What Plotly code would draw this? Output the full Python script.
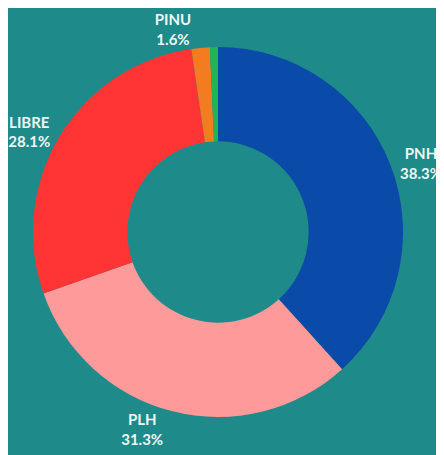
import plotly.graph_objects as go

parties = ["PNH", "PLH", "LIBRE", "PINU", "Otros"]
shares = [38.3, 31.3, 28.1, 1.6, 0.7]
colors = ["#0a4aa8", "#ff9a9a", "#ff3535", "#f47c20", "#1fb552"]
labels_shown = [True, True, True, True, False]

templates = ["<b>%{label}</b><br><b>%{value}%</b>" if s else "" for s in labels_shown]

fig = go.Figure(go.Pie(
    labels=parties,
    values=shares,
    marker=dict(colors=colors, line=dict(width=0)),
    hole=0.49,
    sort=False,
    direction="clockwise",
    rotation=0,
    textposition="outside",
    texttemplate=templates,
    textfont=dict(family="Lato, sans-serif", size=15, color="#eef6f4"),
    showlegend=False,
    automargin=False,
))
fig.update_layout(
    width=444, height=455,
    paper_bgcolor="#1f8a8a",
    plot_bgcolor="#1f8a8a",
    margin=dict(l=25, r=49, t=39, b=46, autoexpand=False),
)
fig.write_html("out.html")
